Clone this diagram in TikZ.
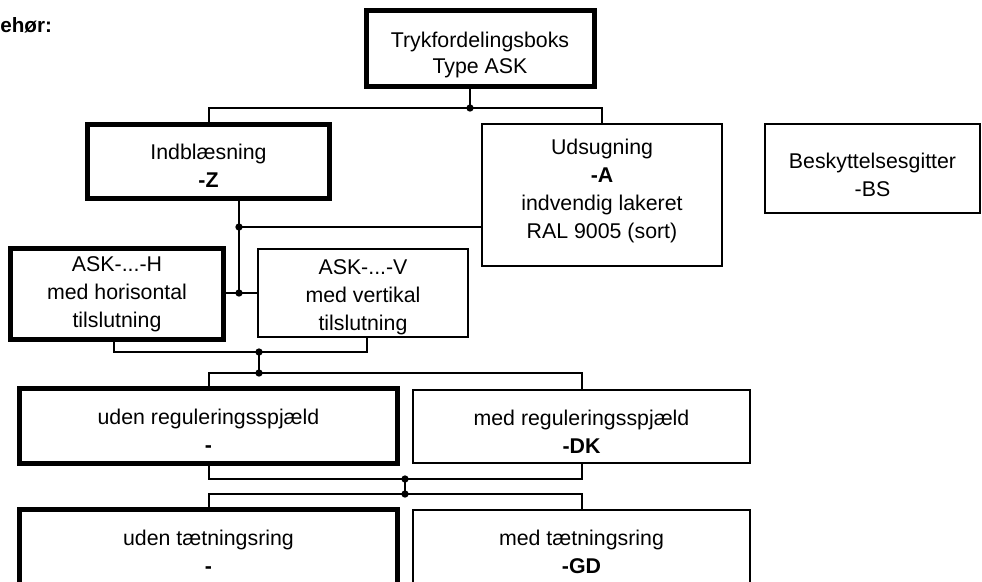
\documentclass[tikz,border=0pt]{standalone}
\usepackage{fontspec}
\setmainfont{Liberation Sans}
\usetikzlibrary{calc}
\newcommand{\txdown}[1]{\rule{0pt}{\dimexpr 11.7pt+#1\relax}}
\newcommand{\txup}[1]{\rule[-\dimexpr 3.4pt+#1\relax]{0pt}{0pt}}
\begin{document}
\begin{tikzpicture}[x=0.75pt,y=-0.75pt,
  box/.style={draw,line width=1.5pt,inner sep=0pt,align=center,font=\fontsize{16}{21}\selectfont},
  thickbox/.style={box,line width=3.75pt},
  dot/.style={circle,fill,inner sep=0pt,minimum size=5.5pt},
  conn/.style={line width=1.5pt}]
\clip (0,0) rectangle (982,582);

\node[anchor=base west,inner sep=0pt,font=\bfseries\fontsize{15.5}{18}\selectfont] (acc) at (0,32) {ehør:};

% boxes
\node[thickbox,minimum width=228*0.75pt,minimum height=76*0.75pt,font=\fontsize{16}{19.5}\selectfont] (top) at (480,48) {\txdown{10.5pt}Trykfordelingsboks\\Type ASK};
\node[thickbox,minimum width=242*0.75pt,minimum height=74*0.75pt] (ind) at (208.5,161.5) {\txdown{6pt}Indblæsning\\\textbf{-Z}};
\node[box,minimum width=240*0.75pt,minimum height=142*0.75pt] (uds) at (602,195) {Udsugning\\\textbf{-A}\\indvendig lakeret\\RAL 9005 (sort)\txup{6pt}};
\node[box,minimum width=215*0.75pt,minimum height=89*0.75pt] (bes) at (872.5,168.5) {\txdown{9pt}Beskyttelsesgitter\\-BS};
\node[thickbox,minimum width=213*0.75pt,minimum height=91*0.75pt] (askh) at (117,294) {ASK-...-H\\med horisontal\\tilslutning};
\node[box,minimum width=210*0.75pt,minimum height=88*0.75pt] (askv) at (363,293) {\txdown{6pt}ASK-...-V\\med vertikal\\tilslutning};
\node[thickbox,minimum width=378*0.75pt,minimum height=75*0.75pt] (udenreg) at (208.5,426) {\txdown{7.5pt}uden reguleringsspjæld\\\textbf{-}};
\node[box,minimum width=337*0.75pt,minimum height=73*0.75pt] (medreg) at (581.5,426.5) {\txdown{7.5pt}med reguleringsspjæld\\\textbf{-DK}};
\node[thickbox,minimum width=378*0.75pt,minimum height=75*0.75pt] (udentaet) at (208.5,547) {\txdown{7.5pt}uden tætningsring\\\textbf{-}};
\node[box,minimum width=337*0.75pt,minimum height=73*0.75pt] (medtaet) at (581.5,546.5) {\txdown{7.5pt}med tætningsring\\\textbf{-GD}};

% junction coordinates
\coordinate (j1) at (470,108);
\coordinate (j2) at (239,227);
\coordinate (j3) at (239,293);
\coordinate (j4) at (259,352);
\coordinate (j5) at (259,373);
\coordinate (j6) at (405,479);
\coordinate (j7) at (405,494);
\coordinate (hb) at (114,352);
\coordinate (vb) at (367,352);

% level 1
\draw[conn] (j1 |- top.south) -- (j1);
\draw[conn] (ind.north) |- (j1) -| (uds.north);
% level 2
\draw[conn] (j2 |- ind.south) -- (j3);
\draw[conn] (j2) -- (j2 -| uds.west);
\draw[conn] (askh.east |- j3) -- (askv.west |- j3);
% level 3
\draw[conn] (hb |- askh.south) -- (hb) -- (vb) -- (vb |- askv.south);
\draw[conn] (j4) -- (j5);
\draw[conn] (udenreg.north) |- (j5) -| (medreg.north);
% level 4
\draw[conn] (udenreg.south) |- (j6) -| (medreg.south);
\draw[conn] (j6) -- (j7);
\draw[conn] (udentaet.north) |- (j7) -| (medtaet.north);

% dots
\foreach \j in {j1,j2,j3,j4,j5,j6,j7} \node[dot] at (\j) {};
\end{tikzpicture}
\end{document}
